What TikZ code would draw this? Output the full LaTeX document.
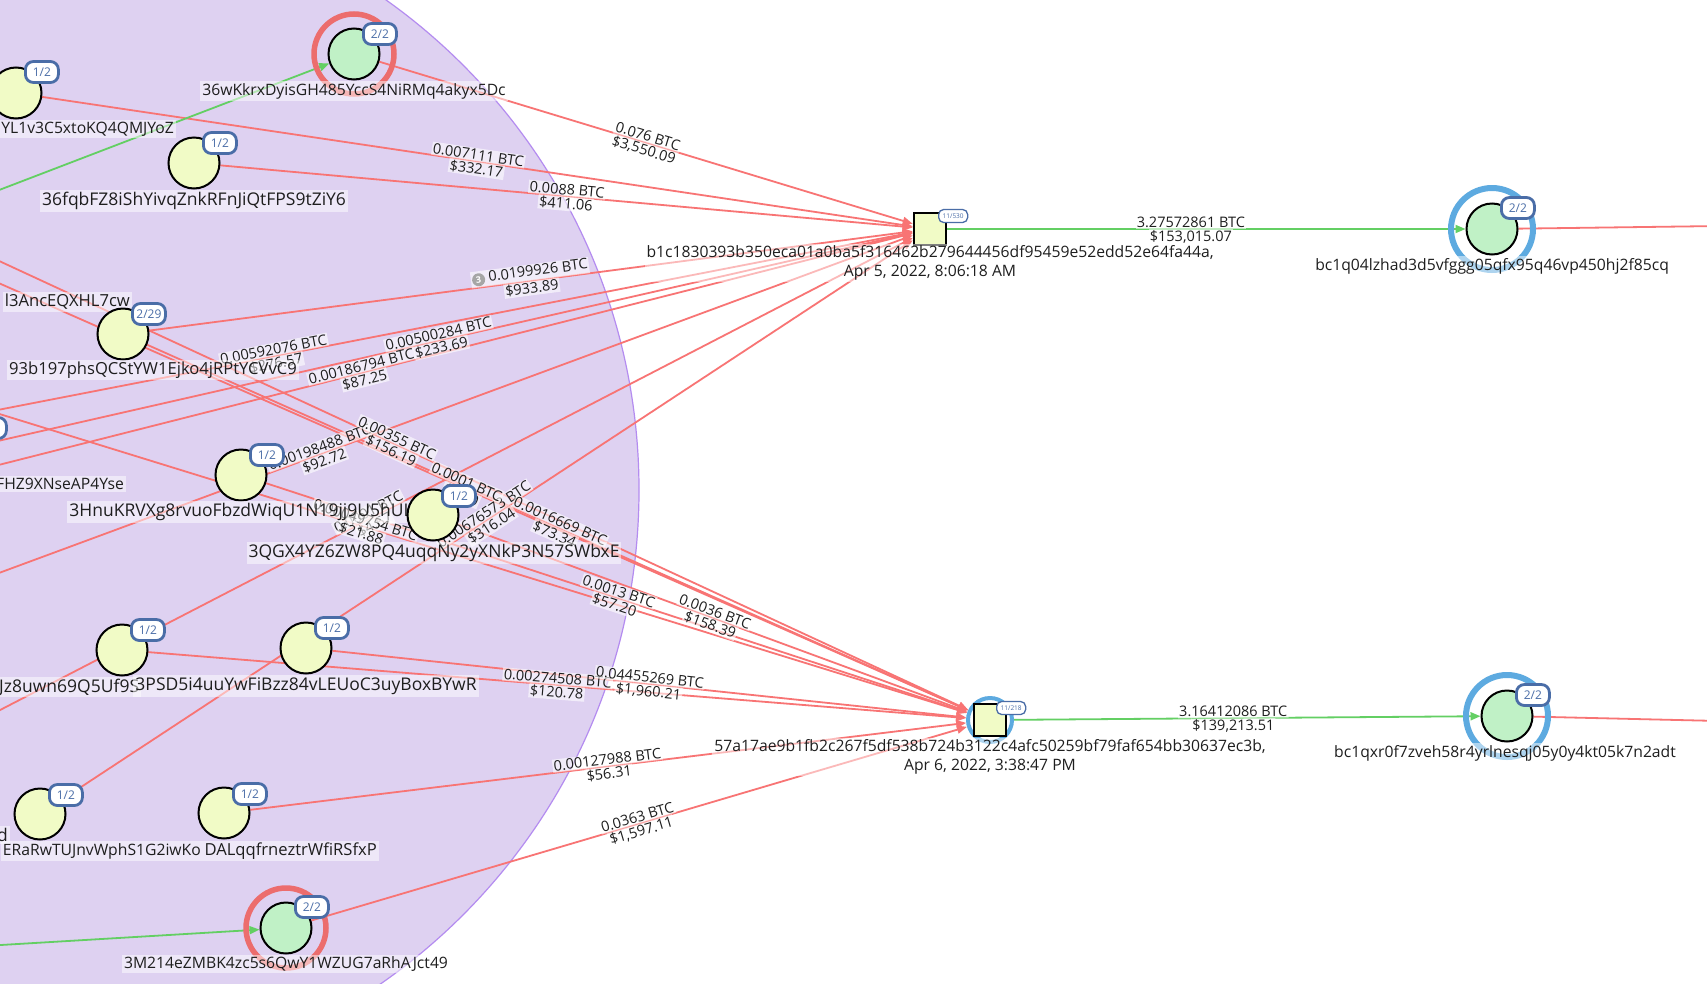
\documentclass[tikz,border=0pt]{standalone}
\usepackage{fontspec}
\setmainfont{Open Sans}
\usetikzlibrary{arrows.meta}
\definecolor{edgered}{HTML}{F87474}
\definecolor{edgegreen}{HTML}{63CF63}
\definecolor{ringred}{HTML}{EC6D6D}
\definecolor{ringblue}{HTML}{5DAAE0}
\definecolor{badgeblue}{HTML}{4A6DA7}
\definecolor{nodeyellow}{HTML}{F1FBC6}
\definecolor{nodegreen}{HTML}{C0F1C6}
\definecolor{groupfill}{HTML}{DED1F1}
\definecolor{groupedge}{HTML}{B48CF0}
\definecolor{labeltext}{HTML}{1E1E1E}
\pgfdeclarelayer{bg}
\pgfdeclarelayer{edgelayer}
\pgfdeclarelayer{elabellayer}
\pgfsetlayers{bg,edgelayer,elabellayer,main}
\newcommand\RedEdge[4]{%
  \begin{pgfonlayer}{edgelayer}\draw[redge] (#1) -- (#2);\end{pgfonlayer}%
  \begin{pgfonlayer}{elabellayer}\path (#1) -- (#2) node[elabel, above=0pt] {#3} node[elabel, below=0pt] {#4};\end{pgfonlayer}}
\newcommand\GreenEdge[4]{%
  \begin{pgfonlayer}{edgelayer}\draw[gedge] (#1) -- (#2);\end{pgfonlayer}%
  \begin{pgfonlayer}{elabellayer}\path (#1) -- (#2) node[elabel, pos=0.47, above=0pt] {#3} node[elabel, pos=0.47, below=0pt] {#4};\end{pgfonlayer}}
\newcommand\ThreeMark{\tikz[baseline=(tm.base)]\node[circle, fill=black!35, text=white, inner sep=0pt, minimum size=13pt, font=\fontsize{9}{9}\selectfont\bfseries] (tm) {3};}
\begin{document}
\begin{tikzpicture}[x=1pt,y=-1pt,
  ynode/.style={circle, draw=black, line width=2pt, fill=nodeyellow, minimum size=51pt, inner sep=0pt},
  gnode/.style={ynode, fill=nodegreen},
  rring/.style={circle, draw=ringred, line width=5.5pt, minimum size=80pt, inner sep=0pt},
  bring/.style={circle, draw=ringblue, line width=6pt, minimum size=82pt, inner sep=0pt},
  txsq/.style={rectangle, draw=black, line width=2.6pt, fill=nodeyellow, minimum size=32pt, inner sep=0pt},
  badge/.style={anchor=west, draw=badgeblue, line width=2.8pt, fill=white, rounded corners=8pt, minimum height=21pt, minimum width=33pt, inner xsep=3.5pt, inner ysep=1pt, text=badgeblue, font=\fontsize{12}{13}\selectfont},
  txbadge/.style={anchor=west, draw=badgeblue, line width=1.3pt, fill=white, rounded corners=5pt, minimum height=13pt, minimum width=29pt, inner sep=1pt, text=badgeblue, font=\fontsize{6.5}{7}\selectfont},
  nlabel/.style={fill=white, fill opacity=0.5, text opacity=1, text=labeltext, inner sep=2pt, font=\fontsize{17.5}{20}\selectfont},
  slabel/.style={nlabel, font=\fontsize{15.7}{19}\selectfont},
  mlabel/.style={nlabel, font=\fontsize{16.6}{19}\selectfont},
  elabel/.style={midway, sloped, fill=white, fill opacity=0.6, text opacity=1, text=labeltext, inner sep=1.2pt, font=\fontsize{14.5}{16}\selectfont},
  redge/.style={draw=edgered, line width=1.8pt, -{Triangle[length=10pt,width=8pt]}},
  gedge/.style={draw=edgegreen, line width=1.8pt, -{Triangle[length=10pt,width=8pt]}},
  rline/.style={draw=edgered, line width=1.8pt}]
\useasboundingbox (0,0) rectangle (1707,983);
\begin{pgfonlayer}{bg}
\fill[white] (0,0) rectangle (1707,983);
\filldraw[fill=groupfill, draw=groupedge, line width=1.2pt] (38,490) circle[radius=601];
\end{pgfonlayer}
% off-screen coordinates
\coordinate (gB) at (-100,228);
\coordinate (gM) at (-100,951);
\coordinate (s5) at (-363,480);
\coordinate (sF) at (-33,448);
\coordinate (s7) at (-187,512);
\coordinate (s8) at (-269,672);
\coordinate (s10) at (-170,798);
\coordinate (sa) at (-180,178);
\coordinate (sD) at (-40,266);
\coordinate (sx) at (-240,340);
\coordinate (rN) at (1720,226);
\coordinate (rO) at (1720,721);
% nodes
\node[rring] (ringB) at (354,54) {};
\node[gnode] (nB) at (354,54) {};
\node[slabel] (lB) at (354,91) {36wKkrxDyisGH485YccS4NiRMq4akyx5Dc};
\node[badge] (bB) at (362,34) {2/2};
\node[ynode] (nA) at (16,93) {};
\node[slabel, anchor=east] (lA) at (176,129) {YL1v3C5xtoKQ4QMJYoZ};
\node[badge] (bA) at (24,72) {1/2};
\node[ynode] (nC) at (194,163) {};
\node[nlabel] (lC) at (194,201) {36fqbFZ8iShYivqZnkRFnJiQtFPS9tZiY6};
\node[badge] (bC) at (202,143) {1/2};
\node[mlabel, anchor=east] (lD) at (132,302) {l3AncEQXHL7cw};
\node[ynode] (nE) at (123,334) {};
\node[mlabel, anchor=east] (lE) at (299,370) {93b197phsQCStYW1Ejko4jRPtYCVvC9};
\node[badge] (bE) at (131,314) {2/29};
\node[badge] (bF) at (-28,428) {1/2};
\node[slabel, anchor=east] (lF) at (126,484) {FHZ9XNseAP4Yse};
\node[ynode] (nG) at (241,475) {};
\node[nlabel] (lG) at (241,512) {3HnuKRVXg8rvuoFbzdWiqU1N19jj9U5hUL};
\node[badge] (bG) at (249,455) {1/2};
\node[ynode] (nH) at (433,515) {};
\node[nlabel] (lH) at (434,553) {3QGX4YZ6ZW8PQ4uqqNy2yXNkP3N57SWbxE};
\node[badge] (bH) at (441,496) {1/2};
\node[ynode] (nI) at (122,650) {};
\node[nlabel, anchor=west] (lI) at (-3,687) {Jz8uwn69Q5Uf9S};
\node[badge] (bI) at (130,630) {1/2};
\node[ynode] (nJ) at (306,648) {};
\node[nlabel] (lJ) at (306,686) {3PSD5i4uuYwFiBzz84vLEUoC3uyBoxBYwR};
\node[badge] (bJ) at (314,628) {1/2};
\node[ynode] (nL) at (224,813) {};
\node[mlabel, anchor=east] (lL) at (379,851) {DALqqfrneztrWfiRSfxP};
\node[badge] (bL) at (232,794) {1/2};
\node[ynode] (nK) at (40,814) {};
\node[slabel, anchor=east] (lK) at (203,851) {ERaRwTUJnvWphS1G2iwKo};
\node[badge] (bK) at (48,795) {1/2};
\node[nlabel, anchor=east] (ld) at (10,835) {d};
\node[rring] (ringM) at (286,928) {};
\node[gnode] (nM) at (286,928) {};
\node[slabel] (lM) at (286,964) {3M214eZMBK4zc5s6QwY1WZUG7aRhAJct49};
\node[badge] (bM) at (294,907) {2/2};
% transactions
\node[txsq] (T1) at (930,229) {};
\node[txbadge] (bT1) at (938,216) {11/530};
\node[slabel, align=center] (lT1) at (930,263) {b1c1830393b350eca01a0ba5f316462b279644456df95459e52edd52e64fa44a,\\Apr 5, 2022, 8:06:18 AM};
\node[circle, draw=ringblue, line width=4pt, minimum size=44pt, inner sep=0pt] (T2) at (990,720) {};
\node[txsq] (T2sq) at (990,720) {};
\node[txbadge] (bT2) at (996,708) {11/218};
\node[slabel, align=center] (lT2) at (990,757) {57a17ae9b1fb2c267f5df538b724b3122c4afc50259bf79faf654bb30637ec3b,\\Apr 6, 2022, 3:38:47 PM};
% right nodes
\node[bring] (ringN) at (1492,229) {};
\node[gnode] (nN) at (1492,229) {};
\node[slabel] (lN) at (1492,266) {bc1q04lzhad3d5vfggg05qfx95q46vp450hj2f85cq};
\node[badge] (bN) at (1500,208) {2/2};
\node[bring] (ringO) at (1507,716) {};
\node[gnode] (nO) at (1507,716) {};
\node[slabel] (lO) at (1505,753) {bc1qxr0f7zveh58r4yrlnesqj05y0y4kt05k7n2adt};
\node[badge] (bO) at (1515,695) {2/2};
% edges into T1
\RedEdge{nB}{T1}{0.076 BTC}{\$3,550.09}
\RedEdge{nA}{T1}{0.007111 BTC}{\$332.17}
\RedEdge{nC}{T1}{0.0088 BTC}{\$411.06}
\RedEdge{nE}{T1}{\ThreeMark\ 0.0199926 BTC}{\$933.89}
\RedEdge{s5}{T1}{0.00592076 BTC}{\$276.57}
\RedEdge{sF}{T1}{0.00500284 BTC}{\$233.69}
\RedEdge{s7}{T1}{0.00186794 BTC}{\$87.25}
\RedEdge{s8}{T1}{0.00198488 BTC}{\$92.72}
\RedEdge{nK}{T1}{0.00676573 BTC}{\$316.04}
\RedEdge{s10}{T1}{0.0001 BTC}{\$4.67}
% edges into T2
\RedEdge{sa}{T2}{0.00355 BTC}{\$156.19}
\RedEdge{sD}{T2}{0.0001 BTC}{\$4.40}
\RedEdge{nE}{T2}{0.0016669 BTC}{\$73.34}
\RedEdge{nG}{T2}{0.0013 BTC}{\$57.20}
\RedEdge{nH}{T2}{0.0036 BTC}{\$158.39}
\RedEdge{sx}{T2}{0.00049754 BTC}{\$21.88}
\RedEdge{nI}{T2}{0.00274508 BTC}{\$120.78}
\RedEdge{nJ}{T2}{0.04455269 BTC}{\$1,960.21}
\RedEdge{nL}{T2}{0.00127988 BTC}{\$56.31}
\RedEdge{nM}{T2}{0.0363 BTC}{\$1,597.11}
% green edges
\GreenEdge{T1}{nN}{3.27572861 BTC}{\$153,015.07}
\GreenEdge{T2}{nO}{3.16412086 BTC}{\$139,213.51}
\begin{pgfonlayer}{edgelayer}
\draw[gedge] (gB) -- (nB);
\draw[gedge] (gM) -- (nM);
\draw[rline] (nN) -- (rN);
\draw[rline] (nO) -- (rO);
\end{pgfonlayer}
\end{tikzpicture}
\end{document}
